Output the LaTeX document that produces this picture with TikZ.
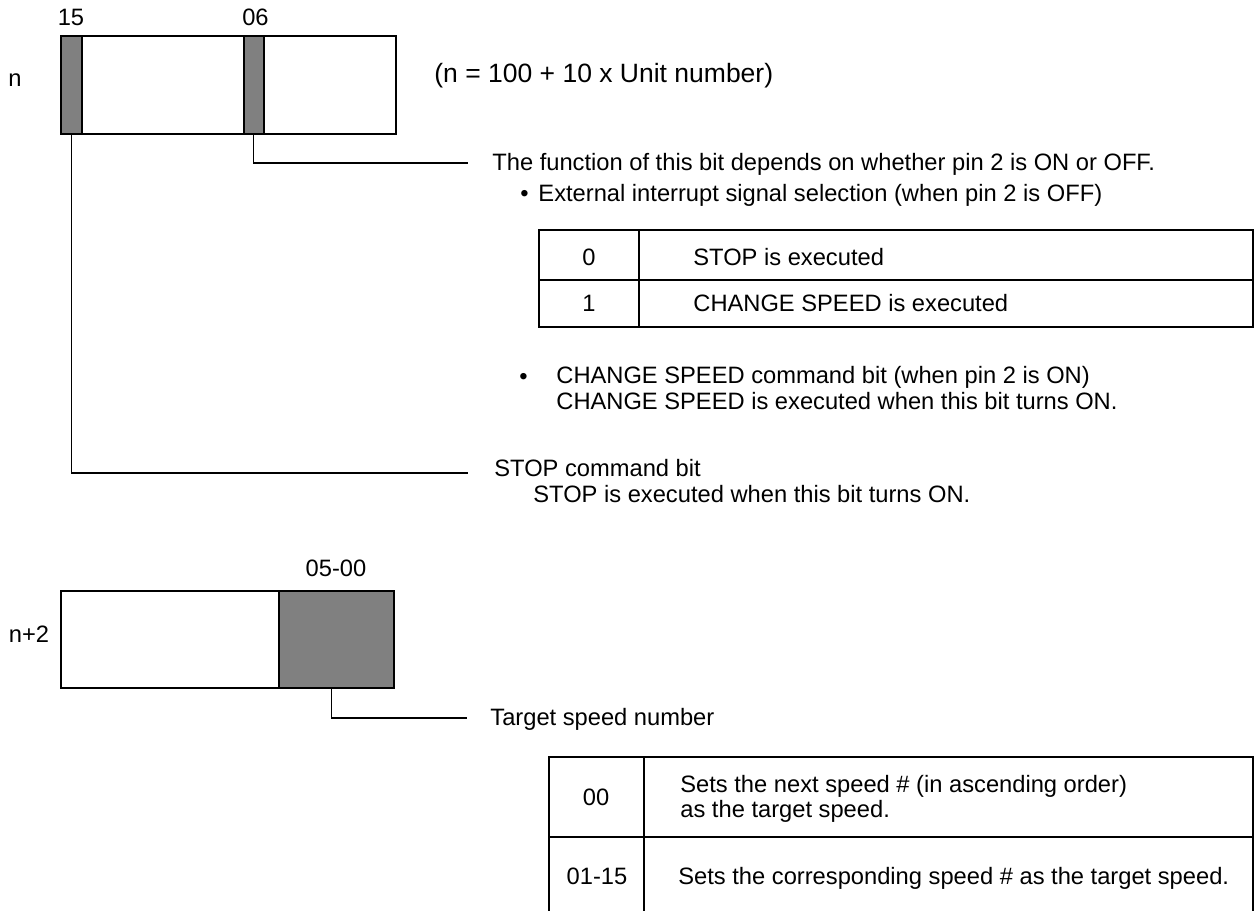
\documentclass[tikz,border=0pt]{standalone}
\usepackage{fontspec}
\setmainfont{Liberation Sans}
\usetikzlibrary{positioning}

\newcommand*{\tabl}{539}
\newcommand*{\tabr}{1253}
\newcommand*{\tabll}{549}

\begin{document}
\begin{tikzpicture}
[
	x=0.5pt,y=-0.5pt,
	every node/.style={font=\fontsize{11.85}{14}\selectfont},
	txt/.style={anchor=west,inner sep=0pt,text height=0.716em,text depth=0pt},
	lbl/.style={inner sep=0pt,text height=0.716em,text depth=0pt},
	regbox/.style={draw,line width=0.8pt,inner sep=0pt,anchor=north west},
	bitcell/.style={regbox,fill=black!50},
	lead/.style={line width=0.6pt},
	tabline/.style={line width=0.8pt}
]
	\useasboundingbox (0,0) rectangle (1255,911);

	% register n
	\node[regbox,minimum width=167.5pt,minimum height=49pt] (regn) at (60,35) {};
	\node[bitcell,minimum width=10.5pt,minimum height=49pt] (b15) at (60,35) {};
	\node[bitcell,minimum width=10pt,minimum height=49pt] (b06) at (243,35) {};

	\node[lbl] (l15) at (71,18) {15};
	\node[lbl] (l06) at (255.5,18) {06};
	\node[lbl] (ln) at (15,79) {n};
	\node[txt,font=\fontsize{13.25}{16}\selectfont] (unit) at (434,75.5) {(n = 100 + 10 x Unit number)};

	% bit 06
	\coordinate (e06) at (468,163);
	\draw[lead] (b06.south) |- (e06);
	\node[txt,right=12pt of e06] (fn) {The function of this bit depends on whether pin 2 is ON or OFF.};
	\node[txt] (ext) at (520,194.6) {\textbullet\hspace{1.6pt} External interrupt signal selection (when pin 2 is OFF)};

	\draw[tabline] (\tabl,230) rectangle (\tabr,327);
	\draw[tabline] (\tabl,280) -- (\tabr,280) (639,230) -- (639,327);
	\node[lbl] (v0) at (589,258) {0};
	\node[lbl] (v1) at (589,304) {1};
	\node[txt] (t0) at (693,258) {STOP is executed};
	\node[txt] (t1) at (693,304) {CHANGE SPEED is executed};

	\node[txt] (bul) at (519,377.6) {\textbullet};
	\node[txt] (chg1) at (556,376.6) {CHANGE SPEED command bit (when pin 2 is ON)};
	\node[txt] (chg2) at (556,402.6) {CHANGE SPEED is executed when this bit turns ON.};

	% bit 15
	\coordinate (e15) at (468,473);
	\draw[lead] (b15.south) |- (e15);
	\node[txt,right=13pt of e15,yshift=1.7pt] (stop1) {STOP command bit};
	\node[txt] (stop2) at (533,495) {STOP is executed when this bit turns ON.};

	% register n+2
	\node[regbox,minimum width=166.5pt,minimum height=48.5pt] (regn2) at (60,590) {};
	\node[bitcell,minimum width=57.5pt,minimum height=48.5pt] (f0500) at (278,590) {};
	\node[lbl] (l0500) at (336,569) {05-00};
	\node[lbl] (ln2) at (29,635) {n+2};

	\coordinate (etg) at (467,718);
	\draw[lead] ([xshift=-2.25pt]f0500.south) |- (etg);
	\node[txt,right=11.5pt of etg] (tgt) {Target speed number};

	\draw[tabline] (\tabll,911) -- (\tabll,757) -- (\tabr,757) -- (\tabr,911);
	\draw[tabline] (\tabll,837) -- (\tabr,837) (644,757) -- (644,911);
	\node[lbl] (v00) at (596,798) {00};
	\node[lbl] (v0115) at (597,877) {01-15};
	\node[txt] (s1) at (680,785) {Sets the next speed \# (in ascending order)};
	\node[txt] (s2) at (680,810) {as the target speed.};
	\node[txt] (s3) at (678,877) {Sets the corresponding speed \# as the target speed.};

\end{tikzpicture}
\end{document}
